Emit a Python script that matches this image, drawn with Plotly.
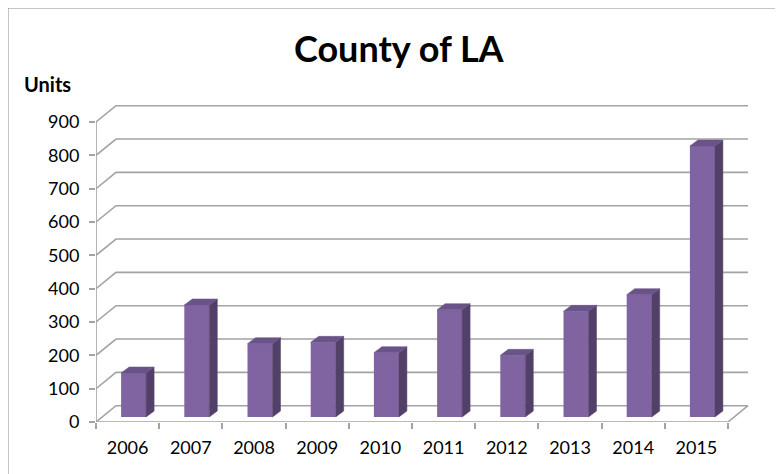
import plotly.graph_objects as go

# ---------------- data ----------------
years = ["2006", "2007", "2008", "2009", "2010", "2011", "2012", "2013", "2014", "2015"]
units = [132, 336, 220, 224, 193, 322, 185, 317, 367, 813]
y_ticks = [0, 100, 200, 300, 400, 500, 600, 700, 800, 900]
title_text = "County of LA"
y_title = "Units"

# ---------------- geometry / style ----------------
OFF = 8                      # page body margin that the html adds
W, H = 783 - OFF, 474 - OFF
L, R, T, B = 88, 34, 97, 52
PW, PH = W - L - R, H - T - B
PX_PER_CAT = 63.2
PX_PER_UNIT = 300 / 900
X_MIN = -0.5
X_MAX = X_MIN + PW / PX_PER_CAT
Y_MAX = PH / PX_PER_UNIT


def cx(px):
    return px / PX_PER_CAT


def cy(px):
    return px / PX_PER_UNIT


def pxx(px):
    """figure pixel -> paper x"""
    return (px - L) / PW


def pxy(py):
    """figure pixel -> paper y"""
    return (H - B - py) / PH


WALL_DX, WALL_DY = cx(20), cy(16.3)
BAR_SHIFT_X, BAR_SHIFT_Y = cx(6), cy(5)
BAR_W = cx(25)
BAR_DX, BAR_DY = cx(8), cy(6)

FRONT = "#8064A2"
SIDE = "#524068"
TOP = "#6A5388"
GRID = "#A3A3A3"
FONT = "Lato"

n = len(years)
idx = list(range(n))

fig = go.Figure()

fig.add_trace(go.Bar(
    x=idx, y=units, base=BAR_SHIFT_Y, width=BAR_W,
    offset=-BAR_W / 2 + BAR_SHIFT_X,
    marker=dict(color=FRONT, line=dict(width=0)),
    hoverinfo="skip", showlegend=False,
))

side_x, side_y, top_x, top_y = [], [], [], []
for i, v in zip(idx, units):
    xl = i - BAR_W / 2 + BAR_SHIFT_X
    xr = xl + BAR_W
    yb = BAR_SHIFT_Y
    yt = BAR_SHIFT_Y + v
    side_x += [xr, xr, xr + BAR_DX, xr + BAR_DX, xr, None]
    side_y += [yb, yt, yt + BAR_DY, yb + BAR_DY, yb, None]
    top_x += [xl, xr, xr + BAR_DX, xl + BAR_DX, xl, None]
    top_y += [yt, yt, yt + BAR_DY, yt + BAR_DY, yt, None]

fig.add_trace(go.Scatter(x=side_x, y=side_y, mode="lines", fill="toself",
                         fillcolor=SIDE, line=dict(width=0.5, color=SIDE),
                         hoverinfo="skip", showlegend=False, cliponaxis=False))
fig.add_trace(go.Scatter(x=top_x, y=top_y, mode="lines", fill="toself",
                         fillcolor=TOP, line=dict(width=0.5, color=TOP),
                         hoverinfo="skip", showlegend=False, cliponaxis=False))

shapes = []
x_right = X_MIN + n
for v in y_ticks:
    path = (f"M {X_MIN},{v} L {X_MIN + WALL_DX},{v + WALL_DY} "
            f"L {x_right + WALL_DX},{v + WALL_DY}")
    shapes.append(dict(type="path", path=path, xref="x", yref="y", layer="below",
                       line=dict(color=GRID, width=1.6)))
# floor front edge + right edge
shapes.append(dict(type="path",
                   path=f"M {X_MIN},0 L {x_right},0 L {x_right + WALL_DX},{WALL_DY}",
                   xref="x", yref="y", layer="below", line=dict(color=GRID, width=1.6)))
# front vertical axis
shapes.append(dict(type="line", x0=X_MIN, x1=X_MIN, y0=0, y1=y_ticks[-1],
                   xref="x", yref="y", layer="below", line=dict(color=GRID, width=1.6)))
# chart border
shapes.append(dict(type="rect", xref="paper", yref="paper",
                   x0=pxx(0), x1=pxx(W + 20), y0=pxy(H + 20), y1=pxy(0),
                   line=dict(color="#8C8C8C", width=1), fillcolor="rgba(0,0,0,0)",
                   layer="below"))

fig.update_layout(
    width=W, height=H,
    margin=dict(l=L, r=R, t=T, b=B),
    paper_bgcolor="white", plot_bgcolor="white",
    showlegend=False,
    shapes=shapes,
    font=dict(family=FONT, color="black", size=18),
    xaxis=dict(range=[X_MIN, X_MAX], tickvals=idx, ticktext=years, ticks="",
               showgrid=False, zeroline=False, showline=False,
               tickfont=dict(family=FONT, size=18, color="black"),
               ticklabelstandoff=13,
               minor=dict(tickvals=[i - 0.5 for i in range(n + 1)], ticks="outside",
                          ticklen=6, tickcolor=GRID, tickwidth=1.6, showgrid=False)),
    yaxis=dict(range=[0, Y_MAX], tickvals=y_ticks, ticks="outside", ticklen=6,
               tickcolor=GRID, tickwidth=1.6, showgrid=False, zeroline=False,
               showline=False, ticklabelstandoff=6,
               tickfont=dict(family=FONT, size=18, color="black")),
    annotations=[
        dict(text=f"<b>{title_text}</b>", xref="paper", yref="paper",
             x=pxx(391), y=pxy(40), xanchor="center", yanchor="middle",
             showarrow=False, font=dict(family=FONT, size=36, color="black")),
        dict(text=f"<b>{y_title}</b>", xref="paper", yref="paper",
             x=pxx(14), y=pxy(76), xanchor="left", yanchor="middle",
             showarrow=False, font=dict(family=FONT, size=20, color="black")),
    ],
)

fig.write_html("out.html")
